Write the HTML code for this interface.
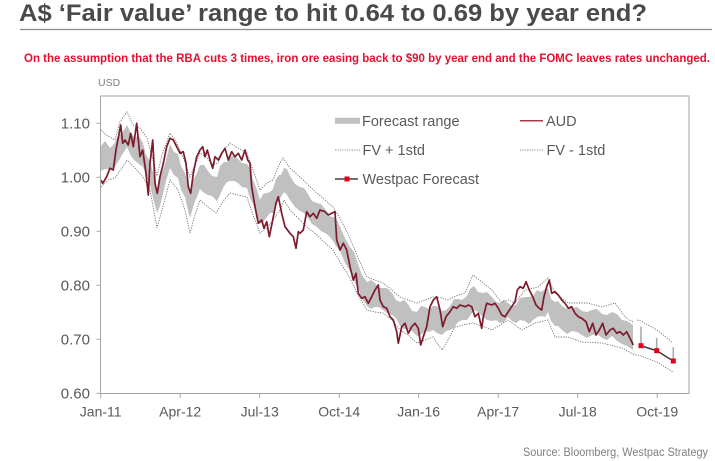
<!DOCTYPE html>
<html><head><meta charset="utf-8"><style>
html,body{margin:0;padding:0;background:#fff;}
svg{display:block;}
text{font-family:"Liberation Sans",Arial,sans-serif;}
</style></head><body>
<svg width="715" height="461" viewBox="0 0 715 461" xmlns="http://www.w3.org/2000/svg">
<rect width="715" height="461" fill="#fff"/>
<!-- Title -->
<text x="19" y="21" font-size="24.5" font-weight="bold" fill="#4a4a4a" textLength="628" lengthAdjust="spacingAndGlyphs">A$ ‘Fair value’ range to hit 0.64 to 0.69 by year end?</text>
<line x1="20" y1="29.5" x2="712" y2="29.5" stroke="#8c8c8c" stroke-width="1.2"/>
<text x="24" y="62" font-size="11.5" font-weight="bold" fill="#e3102f" textLength="686" lengthAdjust="spacingAndGlyphs">On the assumption  that the RBA cuts 3 times, iron ore easing back to $90 by year end and the FOMC leaves rates unchanged.</text>
<text x="98" y="86" font-size="10.5" fill="#7f7f7f">USD</text>

<!-- Forecast range band -->
<polygon fill="#c0c0c0" points="
101,146 105,141 110,148 114,144 118,136 122,133 127,125 131,134 135,137 139,136 143,143 146,155 150,161 153,172 157,190 160,176 163,170 166,160 170,144 174,152 178,154 181,166 185,173 187,180 190,194 192,182 195,177 197,173 200,165 204,165 208,171 212,176 217,177 220,166 224,162 227,162 230,157 234,155 238,159 242,163 247,164 250,168 253,180 256,187 260,200 263,194 267,193 270,192 273,189 276,179 279,175 281,175 284,168 287,169 290,176 295,184 300,187 304,188 308,194 312,201 317,203 321,204 325,209 329,216 333,217 336,218 340,227 345,238 350,247 354,252 358,264 362,275 367,282 371,280 375,283 379,288 383,288 387,288 392,293 396,300 400,302 404,300 408,304 412,311 417,312 421,306 425,307 429,309 433,306 437,306 442,311 446,310 450,306 454,299 458,299 462,300 467,296 470,289 474,286 478,292 483,293 487,292 492,297 496,302 500,303 504,300 508,303 512,306 516,305 520,298 525,297 529,297 533,296 537,290 541,292 545,289 548,288 551,299 555,302 558,301 562,306 567,309 572,308 577,307 582,311 587,312 592,310 597,309 602,314 607,315 612,312 617,314 622,320 627,321 633,325
633,350 627,346 622,344 617,341 612,336 607,340 602,338 597,334 592,335 587,338 582,335 577,332 572,331 567,334 562,330 558,326 555,326 551,321 548,312 545,317 541,316 537,317 533,320 529,324 525,321 520,320 516,323 512,321 508,317 504,322 500,323 496,320 492,321 487,320 483,317 478,312 474,310 470,316 467,320 462,320 458,322 454,328 450,330 446,331 442,335 437,333 433,330 429,332 425,331 421,335 417,336 412,331 408,329 404,329 400,326 396,318 392,315 387,313 383,310 379,307 375,307 371,309 367,306 362,299 358,288 354,281 350,271 345,263 340,251 336,246 333,241 329,236 325,233 321,231 317,227 312,224 308,218 304,213 300,211 295,207 290,200 287,195 284,192 281,197 279,199 276,206 273,213 270,213 267,217 263,222 260,224 256,214 253,204 250,198 247,188 242,187 238,183 234,181 230,181 227,182 224,186 220,195 217,201 212,196 208,195 204,193 200,189 197,197 195,201 192,211 190,218 187,206 185,197 181,190 178,178 174,175 170,168 166,181 163,194 160,206 157,213 153,198 150,185 146,174 143,167 139,164 135,161 131,156 127,147 122,155 118,162 114,168 110,170 105,169 101,171"/>

<!-- FV + 1std -->
<polyline fill="none" stroke="#6e6e6e" stroke-width="0.9" stroke-dasharray="1.2 1.3" points="101,130 106,135 110,137 115,140 120,122 124,116 127,112 133,125 140,128 147,138 153,160 157,176 162,155 170,133 175,140 180,150 186,165 190,177 195,165 200,153 207,158 213,165 218,163 224,150 230,143 238,148 247,153 253,170 260,190 267,183 273,180 279,165 283,158 290,168 300,177 308,185 317,193 325,200 333,207 340,218 350,238 358,258 367,277 375,280 383,283 392,290 400,297 408,300 417,303 425,300 433,297 442,298 448,300 456,296 465,293 473,275 482,282 492,290 501,302 508,300 515,303 525,290 538,287 548,278 555,293 568,303 588,303 602,307 615,303 625,317 633,322"/>
<polyline fill="none" stroke="#6e6e6e" stroke-width="0.9" stroke-dasharray="1.2 1.3" points="637,320 641,321 657,330 672,342"/>
<!-- FV - 1std -->
<polyline fill="none" stroke="#6e6e6e" stroke-width="0.9" stroke-dasharray="1.2 1.3" points="101,187 108,180 115,178 122,168 127,160 135,168 143,177 150,190 157,228 162,210 170,180 178,190 185,210 190,233 195,215 200,200 208,207 216,213 224,200 230,193 238,195 247,197 253,215 260,233 267,228 273,220 280,210 284,200 290,210 300,220 308,228 317,235 325,243 333,250 340,262 350,278 358,295 367,310 375,312 383,313 392,320 400,330 408,335 417,343 425,340 433,337 442,350 448,340 455,327 463,325 472,323 482,326 492,330 500,325 508,320 515,325 522,330 535,323 548,320 555,337 568,337 582,342 602,343 622,348 633,354"/>
<polyline fill="none" stroke="#6e6e6e" stroke-width="0.9" stroke-dasharray="1.2 1.3" points="633,354 641,356 657,362 673,372"/>

<!-- AUD -->
<polyline fill="none" stroke="#7d1a2c" stroke-width="1.7" stroke-linejoin="round" points="100.7,180 102.7,183.3 106.7,176.7 110,168.3 113.3,170 116,150 120.7,125 122.7,143.3 125,140 128.3,145 130.7,133.3 133.3,146.7 136.7,123.3 140,156.7 142.7,150 146,173.3 148.3,195 150,163.3 152.7,140 155,183.3 157.3,193.3 160,176.7 163.3,163.3 166.7,146.7 170,138.3 173.3,140 176.7,146.7 180,153.3 183.3,151.7 186,163.3 188.3,186.7 190.7,193.3 193.3,173.3 196.7,156.7 200,150 202.7,146.7 205,156.7 207.3,150 210,160 212.7,168.3 215,156.7 218.3,160 221.7,153.3 225,148.3 228.3,160 231.7,151.7 235,156.7 238.3,153.3 241.7,160 245,150 247.7,160 250,163.3 251.7,186.7 255,206.7 258.3,223.3 261.7,220 264,228.3 266.7,221.7 269.3,236.7 272.7,220 276,203.3 278.3,196.7 281.7,213.3 285,226.7 290,233.3 293.3,236.7 296,248.3 298.3,231.7 300,233.3 303.3,230 306.7,211.7 310,216.7 313.3,213.3 316.7,218.3 320,210 325,211.7 328.3,215 331.7,213.3 335,211.7 336.7,240 340,250 343.3,243.3 346.7,250 350,266.7 353.3,280 356,273.3 358.3,293.3 361.7,298.3 365,296.7 368.3,303.3 371.7,296.7 375,290 378.3,285 380,300 383.3,306.7 386.7,308.3 390,316.7 393.3,320 396.7,331.7 398.3,343.3 401.7,326.7 405,323.3 408.3,333.3 411.7,326.7 415,323.3 418.3,328.3 420.7,345 423.3,336.7 426.7,326.7 430,306.7 433.3,300 436.7,296.7 440,310 442.7,326.7 446,316.7 450,311.7 453.3,306.7 456.7,308.3 460,305 465,306.7 468.3,305 471.7,306.7 475,316.7 478.3,313.3 481.7,328.3 483.3,316.7 486.7,303.3 491.7,305 495,303.3 498.3,308.3 501.7,315 505,316.7 508.3,311.7 511.7,306.7 515,301.7 517.3,290 520,286.7 523.3,288.3 526,281.7 529.3,290 532.7,296.7 536,305 539.3,308.3 541.7,310 544,296.7 546.7,286.7 549.3,280 551.7,293.3 555,291.7 558.3,295 561.7,300 565,303.3 568.3,308.3 571.7,306.7 575,313.3 578.3,316.7 581.7,318.3 586,321.7 589.3,331.7 592.7,323.3 596,335 599.3,330 602.7,323.3 606,335 610,330 613.3,328.3 616.7,333.3 620,331.7 623.3,335 626.7,331.7 630,338.3 633.3,345"/>

<!-- Westpac forecast -->
<g stroke="#a6a6a6" stroke-width="1.5">
<line x1="641" y1="326.7" x2="641" y2="346"/>
<line x1="656.7" y1="338" x2="656.7" y2="351"/>
<line x1="673.3" y1="347.3" x2="673.3" y2="362"/>
</g>
<polyline fill="none" stroke="#404040" stroke-width="1.6" points="641,345.7 656.7,350.7 673.3,361"/>
<g fill="#e3001b">
<rect x="638.5" y="343.2" width="5" height="5"/>
<rect x="654.2" y="348.2" width="5" height="5"/>
<rect x="670.8" y="358.5" width="5" height="5"/>
</g>

<!-- Frame -->
<rect x="100.5" y="96" width="588.5" height="297.5" fill="none" stroke="#a6a6a6" stroke-width="1"/>
<!-- Y ticks -->
<g stroke="#a6a6a6" stroke-width="1">
<line x1="96.5" y1="393.3" x2="100.5" y2="393.3"/>
<line x1="96.5" y1="339.3" x2="100.5" y2="339.3"/>
<line x1="96.5" y1="285.3" x2="100.5" y2="285.3"/>
<line x1="96.5" y1="231.3" x2="100.5" y2="231.3"/>
<line x1="96.5" y1="177.3" x2="100.5" y2="177.3"/>
<line x1="96.5" y1="123.3" x2="100.5" y2="123.3"/>
<!-- X ticks -->
<line x1="100.7" y1="393.5" x2="100.7" y2="398"/>
<line x1="180.2" y1="393.5" x2="180.2" y2="398"/>
<line x1="259.7" y1="393.5" x2="259.7" y2="398"/>
<line x1="339.2" y1="393.5" x2="339.2" y2="398"/>
<line x1="418.7" y1="393.5" x2="418.7" y2="398"/>
<line x1="498.2" y1="393.5" x2="498.2" y2="398"/>
<line x1="577.7" y1="393.5" x2="577.7" y2="398"/>
<line x1="657.2" y1="393.5" x2="657.2" y2="398"/>
</g>
<g font-size="15" fill="#595959" text-anchor="end">
<text x="90" y="398.5">0.60</text>
<text x="90" y="344.5">0.70</text>
<text x="90" y="290.5">0.80</text>
<text x="90" y="236.5">0.90</text>
<text x="90" y="182.5">1.00</text>
<text x="90" y="128.5">1.10</text>
</g>
<g font-size="14" fill="#595959" text-anchor="middle">
<text x="100.7" y="416.5">Jan-11</text>
<text x="180.2" y="416.5">Apr-12</text>
<text x="259.7" y="416.5">Jul-13</text>
<text x="339.2" y="416.5">Oct-14</text>
<text x="418.7" y="416.5">Jan-16</text>
<text x="498.2" y="416.5">Apr-17</text>
<text x="577.7" y="416.5">Jul-18</text>
<text x="657.2" y="416.5">Oct-19</text>
</g>

<!-- Legend -->
<rect x="335" y="117.8" width="25" height="6" fill="#c0c0c0"/>
<text x="362" y="126" font-size="14.5" fill="#595959">Forecast range</text>
<line x1="520" y1="120.7" x2="543" y2="120.7" stroke="#a83a4a" stroke-width="1.5"/>
<text x="546" y="126" font-size="14.5" fill="#595959">AUD</text>
<line x1="335" y1="150" x2="360" y2="150" stroke="#8a8a8a" stroke-width="0.9" stroke-dasharray="1.2 1.2"/>
<text x="362.5" y="155" font-size="14.5" fill="#595959">FV + 1std</text>
<line x1="520" y1="150" x2="543" y2="150" stroke="#8a8a8a" stroke-width="0.9" stroke-dasharray="1.2 1.2"/>
<text x="546.5" y="155" font-size="14.5" fill="#595959">FV - 1std</text>
<line x1="335" y1="179" x2="358" y2="179" stroke="#404040" stroke-width="1.6"/>
<rect x="344.5" y="176.5" width="5" height="5" fill="#e3001b"/>
<text x="362.5" y="184" font-size="14.5" fill="#595959">Westpac Forecast</text>

<!-- Source -->
<text x="523" y="456" font-size="11.5" fill="#7f7f7f" textLength="185" lengthAdjust="spacingAndGlyphs">Source:  Bloomberg, Westpac Strategy</text>
</svg>
</body></html>
